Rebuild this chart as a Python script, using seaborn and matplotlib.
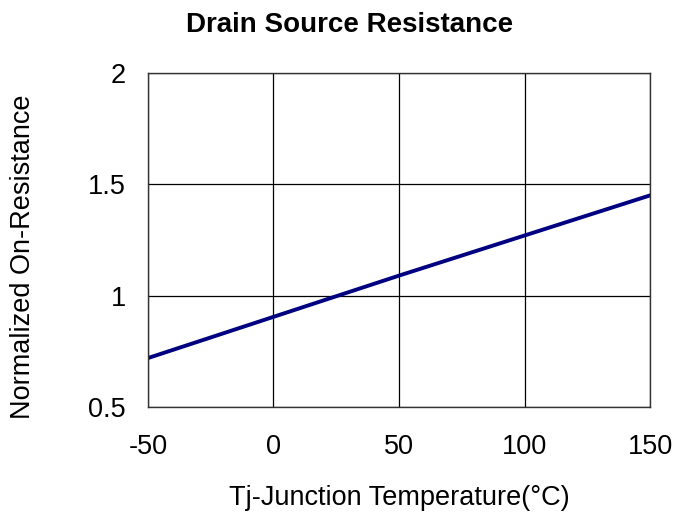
import pandas as pd
import matplotlib.pyplot as plt
import seaborn as sns

# values
temperature = [-50, 0, 50, 100, 150]
on_resistance = [0.72, 0.905, 1.09, 1.27, 1.45]
x_ticks = [-50, 0, 50, 100, 150]
x_tick_labels = ['-50', '0', '50', '100', '150']
y_ticks = [0.5, 1, 1.5, 2]
y_tick_labels = ['0.5', '1', '1.5', '2']

df = pd.DataFrame({'temp': temperature, 'rds': on_resistance})

sns.set_style('white')
plt.rcParams['font.family'] = ['Liberation Sans', 'DejaVu Sans']
plt.rcParams['text.color'] = 'black'
plt.rcParams['axes.labelcolor'] = 'black'
plt.rcParams['xtick.color'] = 'black'
plt.rcParams['ytick.color'] = 'black'

fig = plt.figure(figsize=(6.88, 5.16), dpi=100)
ax = fig.add_axes([0.215, 0.211, 0.73, 0.648])

sns.lineplot(data=df, x='temp', y='rds', color='#000080', linewidth=2.8, ax=ax)

ax.set_xlim(-50, 150)
ax.set_ylim(0.5, 2)
ax.set_xticks(x_ticks)
ax.set_xticklabels(x_tick_labels)
ax.set_yticks(y_ticks)
ax.set_yticklabels(y_tick_labels)
ax.grid(True, color='black', linewidth=0.9)
for s in ax.spines.values():
    s.set_color('#333333')
    s.set_linewidth(1.0)
ax.tick_params(axis='both', labelsize=19.5, length=0)
ax.tick_params(axis='x', pad=19)
ax.tick_params(axis='y', pad=16)

fig.text(350 / 688, 1 - 25 / 516, 'Drain Source Resistance', fontsize=20,
         fontweight='bold', ha='center', va='center')
ax.set_xlabel('Tj-Junction Temperature(°C)', fontsize=19.5)
ax.set_ylabel('Normalized On-Resistance', fontsize=19.5)
ax.xaxis.set_label_coords(0.5, -0.232)
ax.yaxis.set_label_coords(-0.222, 0.449)

plt.savefig('out.png', dpi=100)
